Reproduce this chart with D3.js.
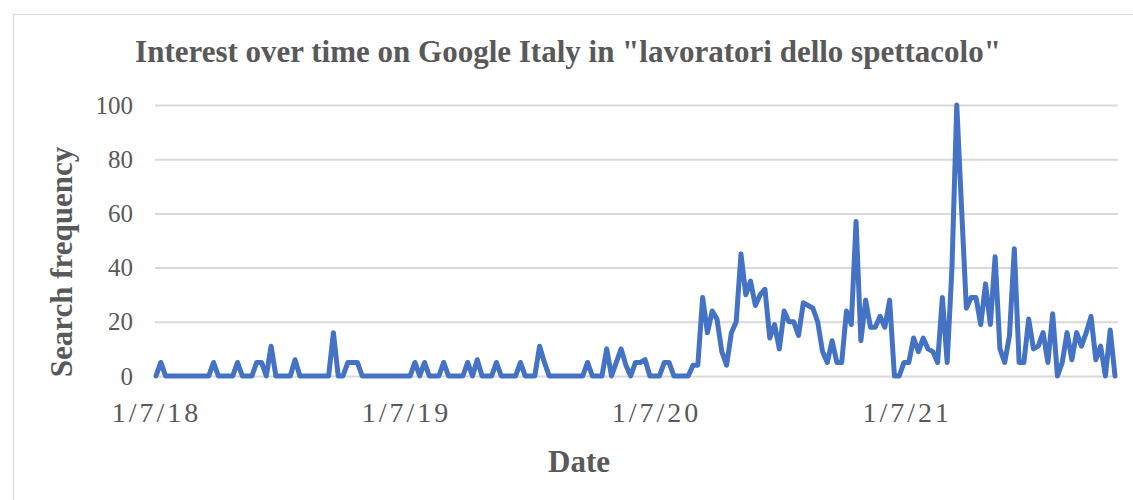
<!DOCTYPE html>
<html lang="en">
  <head>
    <meta charset="utf-8" />
    <title>Interest over time on Google Italy</title>
    <script src="https://cdn.jsdelivr.net/npm/d3@7"></script>
    <style>
      body { margin: 0; background: #fff; }
      text { font-family: "Liberation Serif", "DejaVu Serif", serif; fill: #595959; }
    </style>
  </head>
  <body>
    <div id="chart"></div>
    <script>
      // weekly series, first week starts on this date
      const startDate = "2018-01-07";
      const searchFrequency = [
        0, 5, 0, 0, 0, 0, 0, 0, 0, 0, 0, 0, 5, 0, 0, 0, 0, 5, 0, 0,
        0, 5, 5, 0, 11, 0, 0, 0, 0, 6, 0, 0, 0, 0, 0, 0, 0, 16, 0, 0,
        5, 5, 5, 0, 0, 0, 0, 0, 0, 0, 0, 0, 0, 0, 5, 0, 5, 0, 0, 0,
        5, 0, 0, 0, 0, 5, 0, 6, 0, 0, 0, 5, 0, 0, 0, 0, 5, 0, 0, 0,
        11, 5, 0, 0, 0, 0, 0, 0, 0, 0, 5, 0, 0, 0, 10, 0, 5, 10, 4, 0,
        5, 5, 6, 0, 0, 0, 5, 5, 0, 0, 0, 0, 4, 4, 29, 16, 24, 21, 9, 4,
        16, 20, 45, 30, 35, 26, 30, 32, 14, 19, 10, 24, 20, 20, 15, 27, 26, 25, 20, 9,
        5, 13, 5, 5, 24, 19, 57, 13, 28, 18, 18, 22, 18, 28, 0, 0, 5, 5, 14, 9,
        14, 10, 9, 5, 29, 5, 40, 100, 62, 25, 29, 29, 19, 34, 19, 44, 10, 5, 15, 47,
        5, 5, 21, 10, 11, 16, 5, 23, 0, 5, 16, 6, 16, 11, 16, 22, 6, 11, 0, 17,
        0
      ];
      const xTickDates = ["2018-01-07", "2019-01-07", "2020-01-07", "2021-01-07"];
      const yTicks = [0, 20, 40, 60, 80, 100];

      const width = 1133;
      const height = 500;
      const marginLeft = 156;
      const marginRight = 18;
      const marginTop = 105;
      const bottomY = 376;

      const parse = d3.utcParse("%Y-%m-%d");
      const start = parse(startDate);
      const data = searchFrequency.map((v, i) => ({
        date: d3.utcDay.offset(start, i * 7),
        value: v,
      }));

      const x = d3
        .scaleUtc()
        .domain([start, data[data.length - 1].date])
        .range([marginLeft, width - marginRight]);

      const y = d3.scaleLinear().domain([0, 100]).range([bottomY, marginTop]);

      const svg = d3
        .select("#chart")
        .append("svg")
        .attr("width", width)
        .attr("height", height);

      // chart frame
      svg
        .append("rect")
        .attr("x", 13.5)
        .attr("y", 14.5)
        .attr("width", width + 10)
        .attr("height", height)
        .attr("fill", "#fff")
        .attr("stroke", "#d9d9d9");

      svg
        .append("text")
        .attr("x", 568)
        .attr("y", 62)
        .attr("text-anchor", "middle")
        .style("font-size", "31px")
        .style("font-weight", "bold")
        .text('Interest over time on Google Italy in "lavoratori dello spettacolo"');

      // gridlines + y labels
      const yAxis = svg
        .append("g")
        .attr("transform", `translate(${marginLeft - 1},0)`)
        .call(
          d3
            .axisLeft(y)
            .tickValues(yTicks)
            .tickSize(-(width - marginRight - marginLeft + 4))
            .tickPadding(22)
        );
      yAxis.select(".domain").remove();
      yAxis.selectAll(".tick line").attr("stroke", "#d9d9d9").attr("stroke-width", 2);
      yAxis
        .selectAll(".tick text")
        .style("font-size", "25px")
        .style("font-family", "Liberation Serif")
        .attr("fill", "#595959");

      const xAxis = svg
        .append("g")
        .attr("transform", `translate(0,${bottomY})`)
        .call(
          d3
            .axisBottom(x)
            .tickValues(xTickDates.map(parse))
            .tickFormat(d3.utcFormat("%-m/%-d/%y"))
            .tickSize(0)
            .tickPadding(26)
        );
      xAxis.select(".domain").remove();
      xAxis
        .selectAll(".tick text")
        .style("font-size", "28px")
        .style("letter-spacing", "3px")
        .style("font-family", "Liberation Serif")
        .attr("fill", "#595959");

      svg
        .append("text")
        .attr("x", 579)
        .attr("y", 472)
        .attr("text-anchor", "middle")
        .style("font-size", "31px")
        .style("font-weight", "bold")
        .text("Date");

      svg
        .append("text")
        .attr("transform", "rotate(-90)")
        .attr("x", -262)
        .attr("y", 72)
        .attr("text-anchor", "middle")
        .style("font-size", "31px")
        .style("font-weight", "bold")
        .text("Search frequency");

      const line = d3
        .line()
        .x((d) => x(d.date))
        .y((d) => y(d.value));

      svg
        .append("path")
        .datum(data)
        .attr("fill", "none")
        .attr("stroke", "#4472C4")
        .attr("stroke-width", 5)
        .attr("stroke-linejoin", "round")
        .attr("stroke-linecap", "round")
        .attr("d", line);
    </script>
  </body>
</html>
